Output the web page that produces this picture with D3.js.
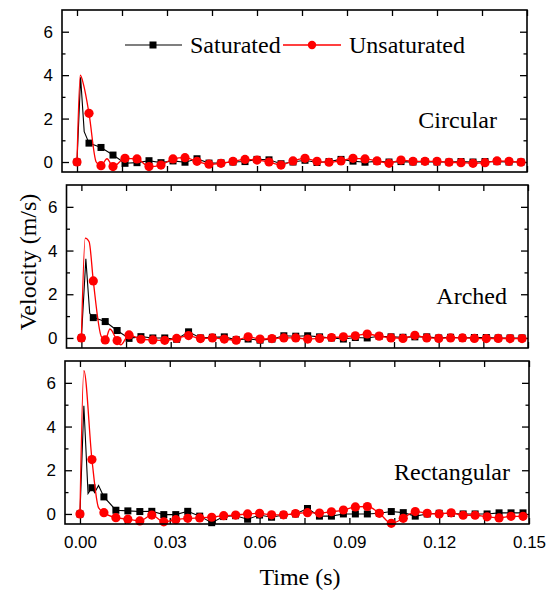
<!DOCTYPE html>
<html>
<head>
<meta charset="utf-8">
<script src="https://cdnjs.cloudflare.com/ajax/libs/d3/7.8.5/d3.min.js"></script>
<style>
body { margin: 0; background: #fff; }
svg { display: block; }
.tick text { font-family: "Liberation Sans", Arial, sans-serif; font-size: 17px; fill: #000; }
.serif { font-family: "Liberation Serif", "Times New Roman", serif; font-size: 24px; fill: #000; }
</style>
</head>
<body>
<div id="chart"></div>
<script>
// marker times (s)
const markerTimes = [0, 0.004, 0.008, 0.012, 0.016, 0.020, 0.024, 0.028, 0.032, 0.036,
    0.040, 0.044, 0.048, 0.052, 0.056, 0.060, 0.064, 0.068, 0.072, 0.076,
    0.080, 0.084, 0.088, 0.092, 0.096, 0.100, 0.104, 0.108, 0.112, 0.116,
    0.120, 0.124, 0.128, 0.132, 0.136, 0.140, 0.144, 0.148];

// Circular
const circSat = [0, 0.87, 0.67, 0.32, -0.06, -0.03, 0.06, -0.03, 0.05, -0.01,
    0.15, -0.05, -0.04, 0.0, 0.02, 0.12, 0.10, -0.08, 0.0, 0.08,
    -0.02, 0.02, 0.12, 0.04, -0.01, 0.03, 0.0, 0.02, 0.0, 0.02,
    0.0, 0.0, 0.02, 0.0, 0.02, 0.02, 0.0, 0.0];
const circUnsat = [0, 2.24, -0.17, -0.21, 0.17, 0.14, -0.21, -0.14, 0.14, 0.20,
    0.03, -0.10, -0.06, 0.03, 0.12, 0.09, 0.0, -0.14, 0.05, 0.17,
    0.03, -0.01, 0.05, 0.17, 0.14, 0.05, -0.06, 0.09, 0.03, 0.03,
    0.03, -0.01, -0.03, -0.06, -0.03, 0.05, 0.03, -0.01];
// extra line points between markers [t, v]
const circSatExtra = [[0.0012, 3.9], [0.0024, 1.4]];
const circUnsatExtra = [[0.0011, 4.0], [0.0022, 3.55], [0.0064, 0.0], [0.0100, 0.15]];

// Arched
const archSat = [0, 0.93, 0.75, 0.34, -0.02, 0.06, 0.0, 0.0, -0.06, 0.28,
    0.0, 0.03, 0.05, -0.08, -0.05, -0.10, -0.05, 0.10, 0.08, 0.10,
    0.05, 0.0, -0.05, 0.02, 0.0, 0.08, 0.05, 0.03, 0.05, 0.05,
    0.0, 0.03, 0.0, 0.02, 0.02, 0.0, 0.0, 0.0];
const archUnsat = [0, 2.61, -0.09, -0.12, 0.14, -0.06, -0.09, -0.11, -0.02, 0.11,
    -0.03, 0.0, -0.05, -0.10, 0.05, -0.05, -0.03, 0.0, 0.0, -0.05,
    -0.02, 0.02, 0.05, 0.10, 0.18, 0.08, 0.0, -0.02, 0.12, 0.0,
    -0.02, 0.0, 0.0, -0.02, -0.03, -0.02, -0.03, -0.03];
const archSatExtra = [[0.0015, 3.62], [0.0028, 1.13]];
const archUnsatExtra = [[0.0013, 4.57], [0.0026, 4.4], [0.0067, 0.06], [0.0096, 0.41], [0.0132, -0.32]];

// Rectangular
const rectSat = [0, 1.20, 0.78, 0.17, 0.14, 0.11, 0.12, -0.03, -0.03, 0.12,
    -0.10, -0.40, -0.12, -0.08, -0.24, -0.05, -0.15, -0.05, 0.0, 0.25,
    -0.10, -0.10, 0.0, 0.0, 0.0, 0.03, 0.11, 0.06, -0.10, 0.0,
    0.03, 0.02, 0.0, 0.0, 0.0, 0.05, 0.05, 0.05];
const rectUnsat = [0, 2.49, 0.06, -0.17, -0.24, -0.32, -0.05, -0.36, -0.26, -0.20,
    -0.18, -0.15, -0.08, -0.05, 0.0, 0.03, -0.04, -0.04, 0.02, 0.06,
    0.04, 0.10, 0.18, 0.32, 0.34, 0.03, -0.43, -0.20, 0.11, 0.03,
    0.0, 0.05, -0.06, -0.06, -0.13, -0.18, -0.11, -0.11];
const rectSatExtra = [[0.0013, 4.95], [0.0027, 0.93], [0.0049, 0.98], [0.0062, 1.3]];
const rectUnsatExtra = [[0.0013, 6.56], [0.0062, 0.29]];

const xTicks = [0, 0.015, 0.03, 0.045, 0.06, 0.075, 0.09, 0.105, 0.12, 0.135, 0.15];
const xTickLabels = ["0.00", "", "0.03", "", "0.06", "", "0.09", "", "0.12", "", "0.15"];
const yMajor = [0, 2, 4, 6];
const yMinor = [1, 3, 5];
const seriesNames = ["Saturated", "Unsaturated"];

const panels = [
    {name: "Circular", sat: circSat, unsat: circUnsat, satExtra: circSatExtra, unsatExtra: circUnsatExtra,
     left: 62, right: 527, top: 10, bottom: 172, labelRight: 497},
    {name: "Arched", sat: archSat, unsat: archUnsat, satExtra: archSatExtra, unsatExtra: archUnsatExtra,
     left: 66.5, right: 528, top: 185, bottom: 348, labelRight: 507},
    {name: "Rectangular", sat: rectSat, unsat: rectUnsat, satExtra: rectSatExtra, unsatExtra: rectUnsatExtra,
     left: 65, right: 529, top: 361, bottom: 524, labelRight: 510}
];

const svg = d3.select("#chart").append("svg")
    .attr("width", 554)
    .attr("height", 592);

function linePoints(values, extra) {
    let pts = markerTimes.map((t, i) => [t, values[i]]).concat(extra);
    return pts.sort((a, b) => a[0] - b[0]);
}

panels.forEach((p, idx) => {
    let w = p.right - p.left, h = p.bottom - p.top;
    let g = svg.append("g").attr("transform", "translate(" + p.left + "," + p.top + ")");

    let x = d3.scaleLinear().domain([-0.005, 0.15]).range([0, w]);
    let y = d3.scaleLinear().domain([-0.46, 7]).range([h, 0]);

    // axes, ticks inward on all sides
    let isLast = idx === panels.length - 1;
    let xb = g.append("g").attr("transform", "translate(0," + h + ")")
        .call(d3.axisBottom(x).tickValues(xTicks).tickSizeInner(-6).tickSizeOuter(0).tickPadding(12)
            .tickFormat((d, i) => isLast ? xTickLabels[i] : ""));
    g.append("g")
        .call(d3.axisTop(x).tickValues(xTicks).tickSizeInner(-6).tickSizeOuter(0).tickFormat(""));
    g.append("g")
        .call(d3.axisLeft(y).tickValues(yMajor).tickSizeInner(-7).tickSizeOuter(0).tickPadding(9).tickFormat(d3.format("d")));
    g.append("g")
        .call(d3.axisLeft(y).tickValues(yMinor).tickSizeInner(-3.5).tickSizeOuter(0).tickFormat(""));
    g.append("g").attr("transform", "translate(" + w + ",0)")
        .call(d3.axisRight(y).tickValues(yMajor).tickSizeInner(-7).tickSizeOuter(0).tickFormat(""));
    g.append("g").attr("transform", "translate(" + w + ",0)")
        .call(d3.axisRight(y).tickValues(yMinor).tickSizeInner(-3.5).tickSizeOuter(0).tickFormat(""));

    g.selectAll(".domain").remove();
    g.selectAll(".tick line").attr("stroke", "#000").attr("stroke-width", 1.3);

    // data
    let blackLine = d3.line().x(d => x(d[0])).y(d => y(d[1]));
    let redLine = d3.line().x(d => x(d[0])).y(d => y(d[1])).curve(d3.curveMonotoneX);

    g.append("path")
        .datum(linePoints(p.sat, p.satExtra))
        .attr("d", blackLine)
        .attr("fill", "none")
        .attr("stroke", "#000")
        .attr("stroke-width", 1.1);

    g.selectAll(".sq")
        .data(p.sat)
        .enter()
        .append("rect")
        .attr("x", (d, i) => x(markerTimes[i]) - 3.5)
        .attr("y", d => y(d) - 3.5)
        .attr("width", 7)
        .attr("height", 7)
        .attr("fill", "#000");

    g.append("path")
        .datum(linePoints(p.unsat, p.unsatExtra))
        .attr("d", redLine)
        .attr("fill", "none")
        .attr("stroke", "#ff0000")
        .attr("stroke-width", 1.3);

    g.selectAll(".dot")
        .data(p.unsat)
        .enter()
        .append("circle")
        .attr("cx", (d, i) => x(markerTimes[i]))
        .attr("cy", d => y(d))
        .attr("r", 4.6)
        .attr("fill", "#ff0000");

    // frame
    g.append("rect")
        .attr("width", w)
        .attr("height", h)
        .attr("fill", "none")
        .attr("stroke", "#000")
        .attr("stroke-width", 1.6);

    g.append("text")
        .attr("class", "serif")
        .attr("text-anchor", "end")
        .attr("x", p.labelRight - p.left)
        .attr("y", y(0) - 34)
        .text(p.name);
});

// legend
let leg = svg.append("g");
leg.append("line").attr("x1", 125).attr("x2", 182).attr("y1", 45).attr("y2", 45)
    .attr("stroke", "#000").attr("stroke-width", 1.1);
leg.append("rect").attr("x", 149.5).attr("y", 41.5).attr("width", 7).attr("height", 7).attr("fill", "#000");
leg.append("text").attr("class", "serif").attr("x", 190).attr("y", 53).text(seriesNames[0]);
leg.append("line").attr("x1", 283).attr("x2", 341).attr("y1", 45).attr("y2", 45)
    .attr("stroke", "#ff0000").attr("stroke-width", 1.3);
leg.append("circle").attr("cx", 312).attr("cy", 45).attr("r", 4.2).attr("fill", "#ff0000");
leg.append("text").attr("class", "serif").attr("x", 349).attr("y", 53).text(seriesNames[1]);

// axis titles
svg.append("text")
    .attr("class", "serif")
    .attr("text-anchor", "middle")
    .attr("x", 300)
    .attr("y", 585)
    .text("Time (s)");

svg.append("text")
    .attr("class", "serif")
    .attr("text-anchor", "middle")
    .attr("transform", "translate(36,262) rotate(-90)")
    .text("Velocity (m/s)");
</script>
</body>
</html>
